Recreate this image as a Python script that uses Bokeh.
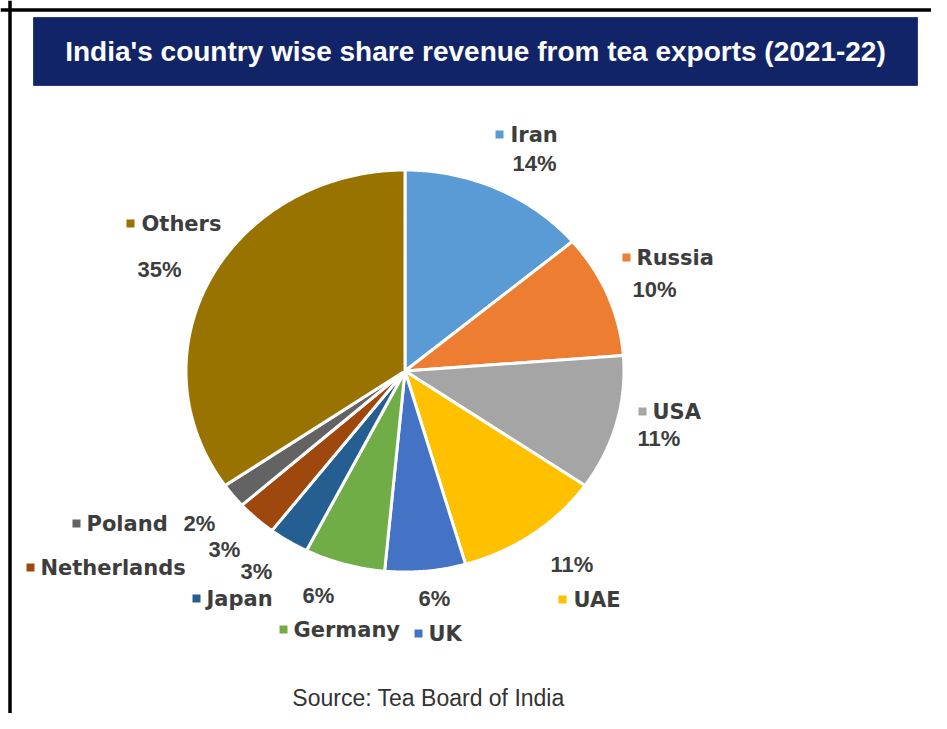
import math
from bokeh.plotting import figure
from bokeh.models import Range1d, ColumnDataSource, Span
from bokeh.core.properties import value
from bokeh.embed import file_html
from bokeh.resources import INLINE

# ---------------- data ----------------
countries = ["Iran", "Russia", "USA", "UAE", "UK", "Germany", "Japan", "Netherlands", "Poland", "Others"]
shares = [14, 10, 11, 11, 6, 6, 3, 3, 2, 35]
colors = ["#5B9BD5", "#ED7D31", "#A5A5A5", "#FFC000", "#4472C4", "#70AD47",
          "#255E91", "#9E480E", "#636363", "#997300"]
title_text = "India's country wise share revenue from tea exports (2021-22)"
source_text = "Source: Tea Board of India"

# ---------------- layout (picture pixel coordinates) ----------------
W, H = 931, 713
CX, CY, RX, RY = 404.5, 370.5, 219, 201
# name label: (marker x, text x, y)
name_pos = [(499, 510, 134), (626, 636, 257), (642, 652, 411), (562, 573, 599),
            (418, 428, 633), (283, 293, 629), (196, 206, 598), (30, 40, 567),
            (76, 86, 523), (130, 141, 223)]
# percent label: (x, y), left aligned
pct_pos = [(512, 163), (632, 289), (637, 438), (550, 564), (418, 598), (302, 595),
           (240, 571), (208, 549), (183, 523), (137, 269)]

p = figure(width=W, height=H, output_backend="svg", toolbar_location=None,
           x_range=Range1d(0, W), y_range=Range1d(H, 0),
           min_border=0, outline_line_color=None, background_fill_color="white",
           border_fill_color="white")
p.axis.visible = False
p.xgrid.visible = False
p.ygrid.visible = False

# frame lines (left and top)
p.add_layout(Span(location=9.5, dimension="height", line_color="black", line_width=3.5))
p.add_layout(Span(location=9.5, dimension="width", line_color="black", line_width=3.5))

# title banner
p.quad(left=33, right=917, top=17, bottom=85, fill_color="#112468", line_color="#2a3d80", line_width=1)
p.text(x=[475], y=[51], text=[title_text], text_color="white", text_font=value("Liberation Sans"),
       text_font_style="bold", text_font_size="28px", text_align="center", text_baseline="middle")

# pie slices as elliptical patches
total = sum(shares)
xs, ys = [], []
start = 0.0
for s in shares:
    a0 = start / total * 2 * math.pi
    a1 = (start + s) / total * 2 * math.pi
    n = max(8, int(s * 6))
    px = [CX]
    py = [CY]
    for k in range(n + 1):
        t = a0 + (a1 - a0) * k / n
        px.append(CX + RX * math.sin(t))
        py.append(CY - RY * math.cos(t))
    xs.append(px)
    ys.append(py)
    start += s
src = ColumnDataSource(dict(xs=xs, ys=ys, color=colors))
p.patches("xs", "ys", source=src, fill_color="color", line_color="white", line_width=3)

# labels
txt_col = "#3d3d3d"
p.scatter(x=[q[0] for q in name_pos], y=[q[2] for q in name_pos], marker="square", size=8,
          fill_color=colors, line_color=None)
p.text(x=[q[1] for q in name_pos], y=[q[2] for q in name_pos], text=countries,
       text_color=txt_col, text_font=value("DejaVu Sans"), text_font_style="bold",
       text_font_size="21px", text_align="left", text_baseline="middle")
pct_text = [f"{s}%" for s in shares]
p.text(x=[q[0] for q in pct_pos], y=[q[1] for q in pct_pos], text=pct_text,
       text_color=txt_col, text_font=value("Liberation Sans"), text_font_style="bold",
       text_font_size="22px", text_align="left", text_baseline="middle")

# source
p.text(x=[428], y=[697], text=[source_text], text_color="#333333", text_font=value("Liberation Sans"),
       text_font_size="23px", text_align="center", text_baseline="middle")

open("out.html", "w").write(file_html(p, INLINE))
